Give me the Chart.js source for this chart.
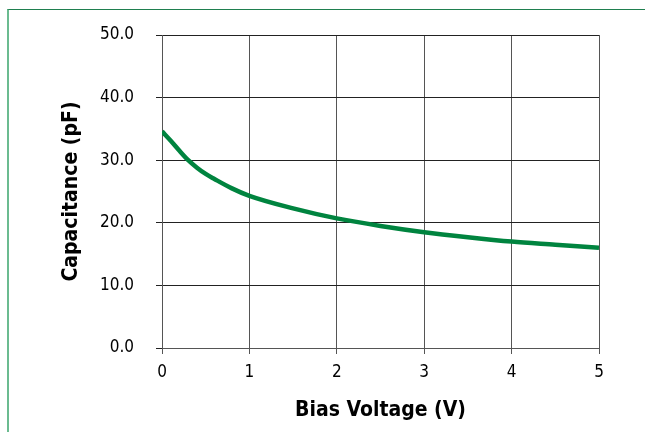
<!DOCTYPE html>
<html>
<head>
<meta charset="utf-8">
<script src="https://cdn.jsdelivr.net/npm/chart.js@4.4.1/dist/chart.umd.min.js"></script>
<style>
  html, body { margin: 0; padding: 0; background: #fff; }
  #wrap { position: relative; width: 645px; height: 432px; overflow: hidden; }
  #frame {
    position: absolute; left: 7px; top: 9px; width: 700px; height: 500px;
    border-top: 1px solid #1f7f4f; border-left: 2px solid #6bbb90;
  }
  #chart { position: absolute; left: 0; top: 0; }
</style>
</head>
<body>
<div id="wrap">
  <div id="frame"></div>
  <canvas id="chart" width="645" height="432"></canvas>
</div>
<script>
// Bias voltage (V) et capacité (pF)
const biasVoltage = [0, 0.1, 0.2, 0.3, 0.4, 0.5, 0.6, 0.8, 1, 1.5, 2, 2.5, 3, 3.5, 4, 4.5, 5];
const capacitance = [34.6, 33.1, 31.5, 30.0, 28.8, 27.8, 27.0, 25.5, 24.3, 22.3, 20.7, 19.5, 18.5, 17.7, 17.0, 16.5, 16.0];

// graduations des axes
const xTicks = [0, 1, 2, 3, 4, 5];
const yTicks = [0, 10, 20, 30, 40, 50];

const fontFamily = "'Liberation Sans Narrow', 'Arial Narrow', 'DejaVu Sans Condensed', sans-serif";

document.addEventListener('DOMContentLoaded', function() {
    const points = biasVoltage.map(function(v, i) {
        return { x: v, y: capacitance[i] };
    });

    const ctx = document.getElementById('chart').getContext('2d');
    new Chart(ctx, {
        type: 'line',
        data: {
            datasets: [{
                label: 'Capacitance',
                data: points,
                borderColor: '#00843f',
                borderWidth: 4.5,
                pointRadius: 0,
                tension: 0.4,
                cubicInterpolationMode: 'monotone',
                fill: false
            }]
        },
        options: {
            responsive: false,
            animation: false,
            layout: {
                padding: { left: 0, top: 35, right: 46, bottom: 0 }
            },
            plugins: {
                legend: { display: false },
                tooltip: { enabled: false }
            },
            scales: {
                x: {
                    type: 'linear',
                    min: 0,
                    max: 5,
                    afterBuildTicks: function(scale) {
                        scale.ticks = xTicks.map(function(v) { return { value: v }; });
                    },
                    afterFit: function(scale) { scale.height = 84; },
                    grid: {
                        color: '#555',
                        lineWidth: 1,
                        tickLength: 6,
                        drawTicks: true
                    },
                    border: { color: '#555', width: 1 },
                    ticks: {
                        color: '#000',
                        padding: 8,
                        maxRotation: 0,
                        font: { family: fontFamily, size: 17 },
                        callback: function(v) { return String(v); }
                    },
                    title: {
                        display: true,
                        text: 'Bias Voltage (V)',
                        color: '#000',
                        font: { family: fontFamily, size: 21, weight: 'bold' },
                        padding: { top: 0, bottom: 9 }
                    }
                },
                y: {
                    min: 0,
                    max: 50,
                    afterBuildTicks: function(scale) {
                        scale.ticks = yTicks.map(function(v) { return { value: v }; });
                    },
                    afterFit: function(scale) { scale.width = 162; },
                    grid: {
                        color: '#222',
                        lineWidth: 1,
                        tickLength: 6
                    },
                    border: { color: '#555', width: 1 },
                    ticks: {
                        color: '#000',
                        padding: 22,
                        font: { family: fontFamily, size: 17 },
                        callback: function(v) { return Number(v).toFixed(1); }
                    },
                    title: {
                        display: true,
                        text: 'Capacitance (pF)',
                        color: '#000',
                        font: { family: fontFamily, size: 21, weight: 'bold' },
                        padding: { top: 59, bottom: 0 }
                    }
                }
            }
        }
    });
});
</script>
</body>
</html>
